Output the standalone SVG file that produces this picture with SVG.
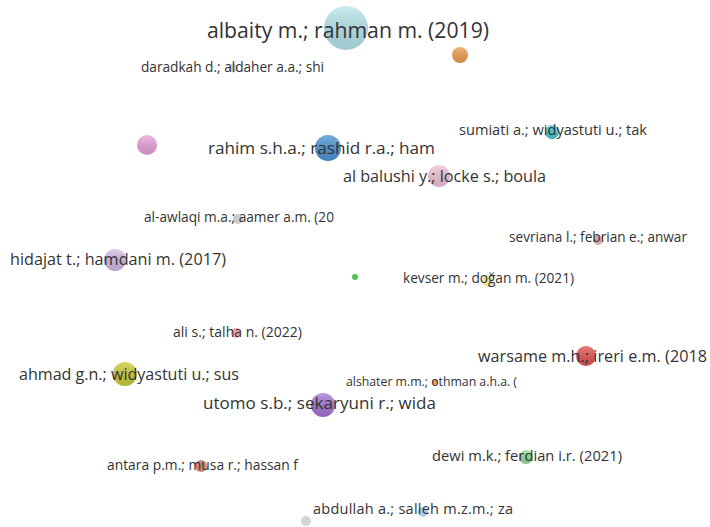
<svg xmlns="http://www.w3.org/2000/svg" width="710" height="527" viewBox="0 0 710 527">
<style>
text{font-family:"Open Sans","Noto Sans","Liberation Sans",sans-serif;fill:#333333}
</style>
<defs>
<linearGradient id="sh" x1="0" y1="0" x2="0" y2="1">
<stop offset="0" stop-color="#ffffff" stop-opacity="0.25"/>
<stop offset="1" stop-color="#000000" stop-opacity="0.12"/>
</linearGradient>
</defs>
<rect width="710" height="527" fill="#ffffff"/>
<g id="connectors"></g>
<g id="n-albaity"><circle cx="346" cy="28" r="22" fill="#b8e6ee"/><circle cx="346" cy="28" r="22" fill="url(#sh)"/><text x="207" y="38" font-size="21.2" textLength="282">albaity m.; rahman m. (2019)</text></g>
<g id="n-orange"><circle cx="460" cy="55" r="8" fill="#f0a050"/><circle cx="460" cy="55" r="8" fill="url(#sh)"/></g>
<g id="n-daradkah"><circle cx="233" cy="68" r="4.5" fill="#cfcfcf"/><text x="141" y="72" font-size="13.7" textLength="183">daradkah d.; aldaher a.a.; shi</text></g>
<g id="n-pink"><circle cx="147" cy="145" r="10" fill="#eaa2dc"/><circle cx="147" cy="145" r="10" fill="url(#sh)"/></g>
<g id="n-rahim"><circle cx="328" cy="148" r="13" fill="#4c94d4"/><circle cx="328" cy="148" r="13" fill="url(#sh)"/><text x="208" y="154" font-size="17.2" textLength="227">rahim s.h.a.; rashid r.a.; ham</text></g>
<g id="n-albalushi"><circle cx="439" cy="176" r="11" fill="#f2c4dc"/><circle cx="439" cy="176" r="11" fill="url(#sh)"/><text x="343" y="182" font-size="16.2" textLength="203">al balushi y.; locke s.; boula</text></g>
<g id="n-sumiati"><circle cx="552" cy="132" r="7" fill="#44c8d8"/><circle cx="552" cy="132" r="7" fill="url(#sh)"/><text x="459" y="135" font-size="14.6" textLength="188">sumiati a.; widyastuti u.; tak</text></g>
<g id="n-alawlaqi"><circle cx="238" cy="219" r="5" fill="#cccccc"/><text x="144" y="222" font-size="13.7" textLength="190">al-awlaqi m.a.; aamer a.m. (20</text></g>
<g id="n-hidajat"><circle cx="115" cy="260" r="11" fill="#d2bce6"/><circle cx="115" cy="260" r="11" fill="url(#sh)"/><text x="10" y="265" font-size="16.2" textLength="216">hidajat t.; hamdani m. (2017)</text></g>
<g id="n-sevriana"><circle cx="598" cy="240" r="5" fill="#dca8a8"/><text x="509" y="242" font-size="13.6" textLength="178">sevriana l.; febrian e.; anwar</text></g>
<g id="n-green"><circle cx="355" cy="277" r="3" fill="#55c055"/></g>
<g id="n-kevser"><circle cx="488" cy="281" r="6" fill="#e6e6a0"/><text x="403" y="283" font-size="13.7" textLength="171">kevser m.; doğan m. (2021)</text></g>
<g id="n-ali"><circle cx="236" cy="333" r="5" fill="#f2a8a8"/><text x="173" y="337" font-size="14" textLength="129">ali s.; talha n. (2022)</text></g>
<g id="n-ahmad"><circle cx="125" cy="374" r="12" fill="#cccc38"/><circle cx="125" cy="374" r="12" fill="url(#sh)"/><text x="19" y="380" font-size="16.1" textLength="220">ahmad g.n.; widyastuti u.; sus</text></g>
<g id="n-warsame"><circle cx="586" cy="356" r="10" fill="#e45454"/><circle cx="586" cy="356" r="10" fill="url(#sh)"/><text x="478" y="362" font-size="16.2" textLength="229">warsame m.h.; ireri e.m. (2018</text></g>
<g id="n-alshater"><circle cx="435" cy="382" r="3" fill="#e8a050"/><text x="346" y="386" font-size="12.3" textLength="171">alshater m.m.; othman a.h.a. (</text></g>
<g id="n-utomo"><circle cx="323" cy="405" r="12" fill="#a676d6"/><circle cx="323" cy="405" r="12" fill="url(#sh)"/><text x="203" y="409" font-size="17" textLength="233">utomo s.b.; sekaryuni r.; wida</text></g>
<g id="n-antara"><circle cx="201" cy="466" r="6" fill="#c88878"/><text x="107" y="470" font-size="13.8" textLength="191">antara p.m.; musa r.; hassan f</text></g>
<g id="n-dewi"><circle cx="526" cy="457" r="7" fill="#98dc98"/><circle cx="526" cy="457" r="7" fill="url(#sh)"/><text x="432" y="461" font-size="14.7" textLength="190">dewi m.k.; ferdian i.r. (2021)</text></g>
<g id="n-abdullah"><circle cx="423" cy="512" r="5" fill="#b0cced"/><text x="313" y="514" font-size="14.5" textLength="200">abdullah a.; salleh m.z.m.; za</text></g>
<g id="n-gray"><circle cx="306" cy="521" r="5" fill="#d4d4d4"/></g>
</svg>
